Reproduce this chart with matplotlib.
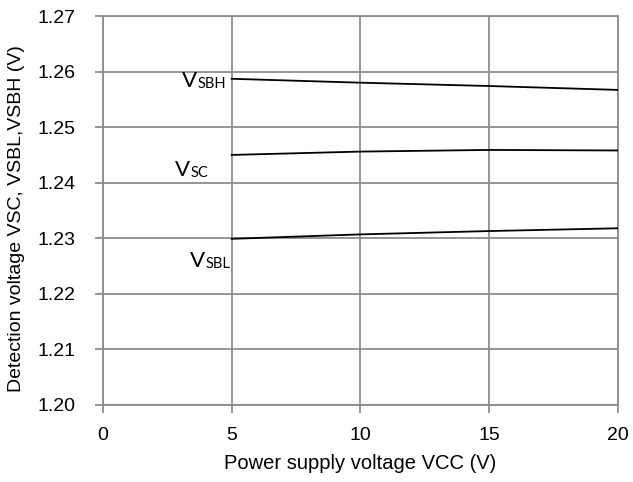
import matplotlib
matplotlib.use('Agg')
import matplotlib.pyplot as plt

vcc = [5, 10, 15, 20]
vsbh = [1.2587, 1.2580, 1.2574, 1.2567]
vsc = [1.2450, 1.2456, 1.2459, 1.2458]
vsbl = [1.2299, 1.2307, 1.2313, 1.2318]

plt.rcParams['font.family'] = ['Liberation Sans', 'DejaVu Sans']

fig = plt.figure(figsize=(6.33, 4.82), dpi=100)
ax = fig.add_axes([0.1627, 0.1598, 0.8136, 0.807])

for y in (vsbh, vsc, vsbl):
    ax.plot(vcc, y, color='black', lw=1.3, zorder=3)

ax.set_xlim(0, 20)
ax.set_ylim(1.20, 1.27)
ax.set_xticks([0, 5, 10, 15, 20])
ax.set_yticks([1.20, 1.21, 1.22, 1.23, 1.24, 1.25, 1.26, 1.27])
ax.set_yticklabels(['%.2f' % v for v in ax.get_yticks()])
ax.grid(True, color='#8c8c8c', lw=1.3)
for s in ax.spines.values():
    s.set_color('#8c8c8c')
    s.set_linewidth(1.3)
ax.tick_params(color='#8c8c8c', width=1.3, length=6, labelsize=14)
ax.tick_params(axis='x', pad=10)
ax.tick_params(axis='y', pad=14)

ax.set_xlabel('Power supply voltage VCC (V)', fontsize=14.5, labelpad=7)
ax.set_ylabel('Detection voltage VSC, VSBL,VSBH (V)', fontsize=14, labelpad=9)
ax.yaxis.label.set_y(0.48)

# curve labels: big V followed by smaller letters, right edge given in data coords
labels = [('SBH', 4.78, 1.2570), ('SC', 4.08, 1.2410), ('SBL', 4.93, 1.2247)]
for sub, x, y in labels:
    t = ax.text(x, y, sub, fontsize=10.5, family=['Lato', 'DejaVu Sans'],
                ha='right', va='baseline')
    ax.annotate('V', xy=(0, 0), xycoords=t, ha='right', va='bottom',
                fontsize=16, family=['Lato', 'DejaVu Sans'])

fig.savefig('out.png', dpi=100)
